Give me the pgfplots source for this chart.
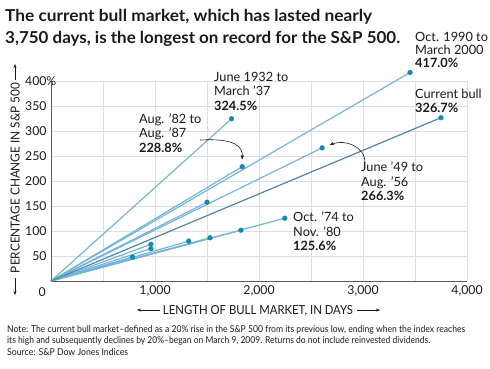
\documentclass[border=0pt]{standalone}
\usepackage{pgfplots}
\pgfplotsset{compat=1.18}
\usepackage{fontspec}
\setmainfont{Lato}
\usetikzlibrary{arrows.meta}
\definecolor{lb}{HTML}{74B4D9}
\definecolor{db}{HTML}{4E87A4}
\definecolor{dotc}{HTML}{1888AE}
\definecolor{gridc}{HTML}{DEDEDE}
\definecolor{axc}{HTML}{5A5A5A}
\definecolor{txt}{HTML}{1A1A1A}
\newcommand\lab[6]{%
  \node[anchor=base west,inner sep=0,text=txt] at (#1,-#2) {#3};
  \node[anchor=base west,inner sep=0,text=txt] at (#1,-#2-#6) {#4};
  \node[anchor=base west,inner sep=0,text=txt] at (#1,-#2-2*#6) {\bfseries #5};}
\begin{document}
\begin{tikzpicture}[x=1bp,y=1bp]
\useasboundingbox (0,0) rectangle (490,-368);
% title
\node[anchor=base west,inner sep=0,font=\fontsize{16.5}{18}\selectfont\bfseries,text=txt] at (5,-21) {\resizebox{367bp}{\height}{The current bull market, which has lasted nearly}};
\node[anchor=base west,inner sep=0,font=\fontsize{16.5}{18}\selectfont\bfseries,text=txt] at (5,-43) {\resizebox{395bp}{\height}{3,750 days, is the longest on record for the S\&P 500.}};

\begin{axis}[
  at={(51bp,-281bp)}, anchor=south west,
  scale only axis, width=416bp, height=200bp,
  xmin=0, xmax=4000, ymin=0, ymax=400,
  axis lines*=left,
  axis line style={axc, line width=0.9pt},
  xtick={1000,2000,3000,4000},
  xticklabels={1{,}000,2{,}000,3{,}000,4{,}000},
  minor xtick={500,1500,2500,3500},
  ytick={50,100,...,400},
  yticklabels={50,100,150,200,250,300,350,400\rlap{\%}},
  grid=both,
  major grid style={gridc, line width=0.6pt},
  minor grid style={gridc, line width=0.6pt},
  major tick length=0pt, minor tick length=0pt,
  tick label style={font=\fontsize{12.3}{13}\selectfont, text=txt},
  yticklabel style={xshift=-1bp},
  xticklabel style={yshift=-1bp},
  /pgf/number format/assume math mode=true,
  clip=false,
]
\addplot[lb, line width=1.2pt] coordinates {(0,0) (1736,324.5)};
\addplot[lb, line width=1.2pt] coordinates {(0,0) (1500,157.7)};
\addplot[lb, line width=1.2pt] coordinates {(0,0) (2607,266.3)};
\addplot[lb, line width=1.2pt] coordinates {(0,0) (1529,86.4)};
\addplot[lb, line width=1.2pt] coordinates {(0,0) (1324,79.8)};
\addplot[lb, line width=1.2pt] coordinates {(0,0) (784,48.0)};
\addplot[lb, line width=1.2pt] coordinates {(0,0) (961,73.5)};
\addplot[lb, line width=1.2pt] coordinates {(0,0) (2248,125.6)};
\addplot[lb, line width=1.2pt] coordinates {(0,0) (1839,228.8)};
\addplot[lb, line width=1.2pt] coordinates {(0,0) (961,64.8)};
\addplot[lb, line width=1.2pt] coordinates {(0,0) (3452,417.0)};
\addplot[lb, line width=1.2pt] coordinates {(0,0) (1826,101.5)};
\addplot[db, line width=1.2pt] coordinates {(0,0) (3750,326.7)};
\addplot[only marks, mark=*, mark size=2.4pt, dotc, mark options={draw=dotc, fill=dotc}] coordinates {
 (1736,324.5) (1500,157.7) (2607,266.3) (1529,86.4) (1324,79.8) (784,48.0)
 (961,73.5) (2248,125.6) (1839,228.8) (961,64.8) (3452,417.0) (1826,101.5) (3750,326.7)};
\draw[-{Stealth[length=4.5pt,width=3.5pt]}, line width=0.6pt, txt] (axis cs:1433,282) .. controls (axis cs:1780,286) and (axis cs:1845,268) .. (axis cs:1838,243);
\draw[-{Stealth[length=4.5pt,width=3.5pt]}, line width=0.6pt, txt] (axis cs:3019,236) .. controls (axis cs:3022,270) and (axis cs:2820,284) .. (axis cs:2680,272);
\node[anchor=north east, inner sep=0, font=\fontsize{12.3}{13}\selectfont, text=txt] at (axis cs:0,0) [xshift=-5bp, yshift=-6bp] {0};
\end{axis}

% annotations
\begingroup
\fontsize{12.8}{14}\selectfont
\lab{415}{41}{Oct. 1990 to}{March 2000}{417.0\%}{13}
\lab{214}{81}{June 1932 to}{March '37}{324.5\%}{14.5}
\lab{139}{123}{Aug. '82 to}{Aug. '87}{228.8\%}{14.5}
\lab{361}{171.5}{June '49 to}{Aug. '56}{266.3\%}{14.5}
\lab{293}{221.5}{Oct. '74 to}{Nov. '80}{125.6\%}{14.5}
\node[anchor=base west,inner sep=0,text=txt] at (415,-98) {Current bull};
\node[anchor=base west,inner sep=0,text=txt] at (415,-112.5) {\bfseries 326.7\%};
\endgroup

% axis titles
\node[anchor=base,inner sep=0,font=\fontsize{12.5}{14}\selectfont,text=txt] at (258,-314.5) {\resizebox{190bp}{\height}{LENGTH OF BULL MARKET, IN DAYS}};
\draw[-{Stealth[length=4pt,width=3pt]}, line width=0.5pt, txt] (160,-310) -- (137,-310);
\draw[-{Stealth[length=4pt,width=3pt]}, line width=0.5pt, txt] (357,-310) -- (380,-310);
\node[rotate=90,anchor=base,inner sep=0,font=\fontsize{12.5}{14}\selectfont,text=txt] at (19.5,-178) {\resizebox{190bp}{\height}{PERCENTAGE CHANGE IN S\&P 500}};
\draw[-{Stealth[length=4pt,width=3pt]}, line width=0.5pt, txt] (15,-80) -- (15,-64);
\draw[-{Stealth[length=4pt,width=3pt]}, line width=0.5pt, txt] (15,-278) -- (15,-295);

% note
\begingroup
\fontsize{9.5}{11}\selectfont
\node[anchor=base west,inner sep=0,text=txt] at (7,-332) {\resizebox{458bp}{\height}{Note: The current bull market--defined as a 20\% rise in the S\&P 500 from its previous low, ending when the index reaches}};
\node[anchor=base west,inner sep=0,text=txt] at (7,-343.5) {\resizebox{423bp}{\height}{its high and subsequently declines by 20\%--began on March 9, 2009. Returns do not include reinvested dividends.}};
\node[anchor=base west,inner sep=0,text=txt] at (7,-355) {\resizebox{121bp}{\height}{Source: S\&P Dow Jones Indices}};
\endgroup
\end{tikzpicture}
\end{document}
